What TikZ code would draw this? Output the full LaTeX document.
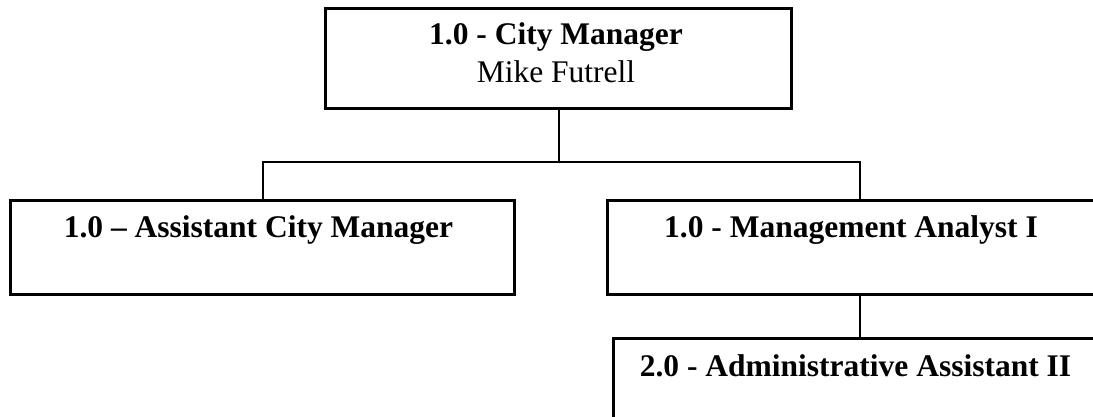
\documentclass[tikz,border=0pt]{standalone}
\usepackage{fontspec}
\setmainfont{Liberation Serif}
\tikzset{
  post/.style={draw=black, line width=1.5pt, rectangle, inner sep=0pt, anchor=north west},
  title/.style={anchor=base, inner sep=0pt, font=\fontsize{15.75}{18}\selectfont\bfseries},
  holder/.style={anchor=base, inner sep=0pt, font=\fontsize{15.75}{18}\selectfont},
  conn/.style={draw=black, line width=1pt}
}
\begin{document}
\begin{tikzpicture}[x=0.5pt, y=-0.5pt]
  \useasboundingbox (0,0) rectangle (1093,417);
  \clip (0,0) rectangle (1093,417);
  \fill[white] (0,0) rectangle (1093,417);

  % position boxes
  \node[post, minimum width=233pt, minimum height=50pt] (cm) at (324,7) {};
  \node[post, minimum width=252pt, minimum height=47pt] (acm) at (9,199) {};
  \node[post, minimum width=252pt, minimum height=47pt] (ma) at (606,199) {};
  \node[post, minimum width=245pt, minimum height=47pt] (aa) at (612,337) {};

  % titles and holders
  \node[title] (cmt) at (556,45) {1.0 - City Manager};
  \node[holder] (cmn) at (556,83) {Mike Futrell};
  \node[title] (acmt) at (258.5,237) {1.0 – Assistant City Manager};
  \node[title] (mat) at (851,237) {1.0 - Management Analyst I};
  \node[title] (aat) at (855.5,376) {2.0 - Administrative Assistant II};

  % reporting lines
  \coordinate (bus) at (cm.south |- 0,162);
  \draw[conn] (cm.south) -- (bus);
  \draw[conn] (acm.north) |- (bus) -| (ma.north);
  \draw[conn] (ma.south) -- (ma.south |- aa.north);
\end{tikzpicture}
\end{document}
